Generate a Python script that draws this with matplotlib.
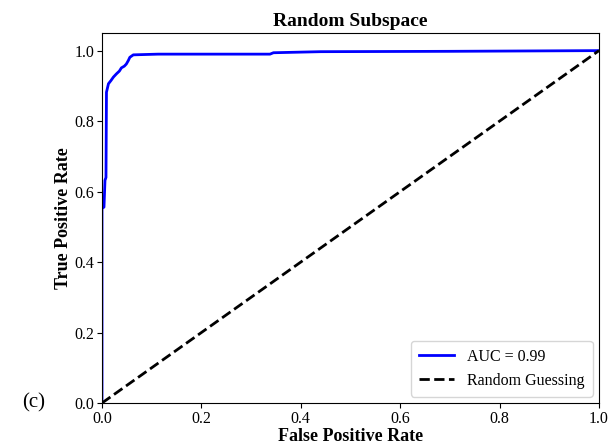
import matplotlib
matplotlib.use("Agg")
import matplotlib.pyplot as plt

plt.rcParams['font.family'] = ['Liberation Serif', 'DejaVu Serif']

# ROC curve
fpr = [0.0, 0.0, 0.004, 0.006, 0.008, 0.009, 0.013, 0.018, 0.023, 0.029, 0.035,
       0.039, 0.045, 0.049, 0.053, 0.056, 0.060, 0.063, 0.113, 0.338, 0.345,
       0.44, 0.70, 1.0]
tpr = [0.0, 0.552, 0.556, 0.632, 0.64, 0.882, 0.906, 0.915, 0.925, 0.934, 0.942,
       0.951, 0.956, 0.962, 0.972, 0.981, 0.985, 0.988, 0.99, 0.99, 0.994,
       0.997, 0.998, 1.0]
auc_label = 'AUC = 0.99'

fig = plt.figure(figsize=(6.13, 4.44), dpi=100)
ax = fig.add_axes([102 / 613, 1 - 403 / 444, 497 / 613, 370 / 444])

ax.plot(fpr, tpr, color='blue', lw=2, label=auc_label)
ax.plot([0, 1], [0, 1], color='black', lw=2, linestyle='--', label='Random Guessing')

ax.set_xlim(0, 1)
ax.set_ylim(0, 1.05)
ax.set_title('Random Subspace', fontsize=14, fontweight='bold', pad=5)
ax.set_xlabel('False Positive Rate', fontsize=13, fontweight='bold', labelpad=1)
ax.set_ylabel('True Positive Rate', fontsize=13, fontweight='bold', labelpad=2)
ax.tick_params(labelsize=11.5, pad=2)
ax.legend(loc='lower right', fontsize=11.5, labelspacing=0.5, borderpad=0.5,
          handlelength=2.2, borderaxespad=0.4)

fig.text(22 / 613, 1 - 403 / 444, '(c)', fontsize=15, va='center', ha='left')

fig.savefig('out.png', dpi=100)
